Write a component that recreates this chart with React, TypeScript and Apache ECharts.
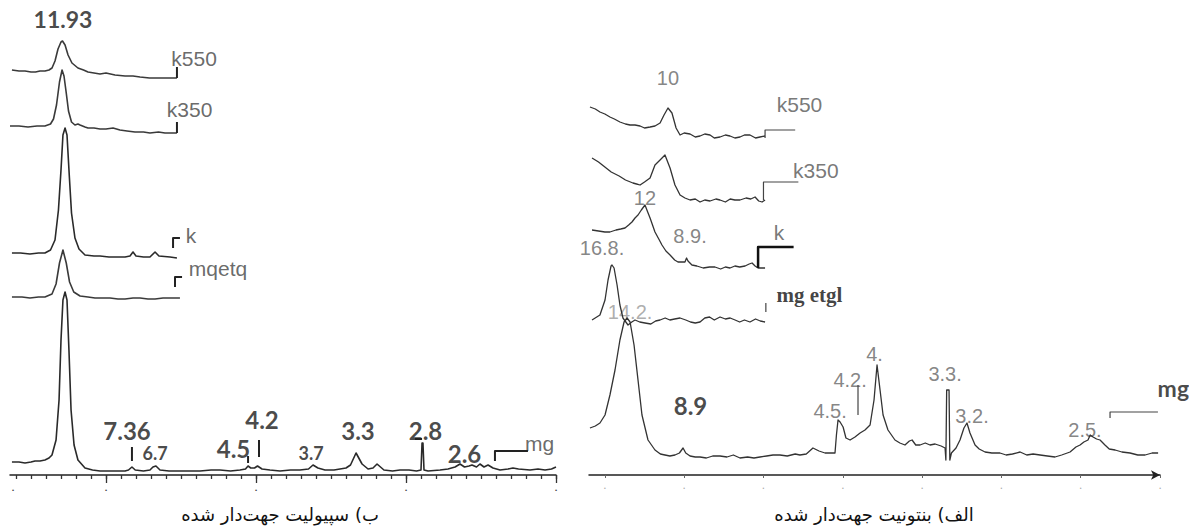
import { useEffect, useRef } from 'react';
import * as echarts from 'echarts';

type Pt = [number, number];
type Lbl = [string, number, number];

// ---- ب) sepiolite, x = 2θ (deg), y = stacked intensity (a.u.)
const sepK550: Pt[] = [
  [3.73, 405], [4.2, 404], [4.6, 404], [5.0, 403], [5.3, 403], [5.6, 404], [5.93, 404], [6.2, 405],
  [6.4, 407], [6.6, 414], [6.8, 426], [7.0, 433], [7.1, 434], [7.27, 430], [7.47, 420], [7.73, 412],
  [8.13, 407], [8.5, 405], [8.8, 403], [9.2, 402], [9.6, 401], [10.0, 402], [10.6, 400], [11.27, 399],
  [11.8, 399], [12.27, 398], [12.9, 397], [13.6, 397], [14.2, 397], [14.73, 397],
];
const sepK350: Pt[] = [
  [3.6, 349], [4.2, 349], [4.8, 348], [5.4, 349], [5.93, 349], [6.3, 351], [6.5, 356], [6.7, 370],
  [6.9, 393], [7.07, 405], [7.2, 399], [7.35, 382], [7.5, 364], [7.7, 353], [7.93, 350], [8.13, 351],
  [8.27, 350], [8.6, 348], [8.8, 347], [9.2, 347], [9.6, 346], [10.0, 346], [10.47, 347], [10.93, 345],
  [11.4, 344], [11.93, 343], [12.5, 343], [12.93, 342], [13.5, 343], [13.93, 342], [14.73, 342],
];
const sepK: Pt[] = [
  [3.73, 222], [4.3, 222], [4.93, 221], [5.5, 222], [5.93, 222], [6.3, 225], [6.6, 235], [6.83, 265],
  [7.0, 305], [7.13, 340], [7.27, 347], [7.4, 340], [7.55, 300], [7.7, 262], [7.93, 237], [8.2, 226],
  [8.6, 220], [9.2, 219], [9.6, 219], [10.2, 218], [10.6, 218], [11.27, 218], [11.6, 219], [11.8, 223],
  [12.0, 219], [12.5, 218], [12.93, 218], [13.27, 223], [13.53, 219], [14.27, 218], [14.73, 217],
];
const sepMgEtg: Pt[] = [
  [3.73, 178], [4.4, 178], [4.93, 177], [5.5, 178], [5.93, 178], [6.4, 181], [6.67, 191], [6.9, 212],
  [7.13, 225], [7.35, 212], [7.57, 193], [7.85, 183], [8.27, 179], [8.8, 178], [9.27, 177], [9.8, 177],
  [10.27, 177], [10.8, 176], [11.27, 176], [11.8, 177], [12.27, 177], [12.8, 176], [13.27, 176],
  [13.8, 177], [14.4, 177], [14.93, 177],
];
const sepMg: Pt[] = [
  [3.73, 13], [4.2, 13], [4.6, 12], [5.0, 13], [5.27, 14], [5.6, 14], [5.93, 15], [6.2, 17], [6.4, 20],
  [6.67, 35], [6.87, 75], [7.0, 135], [7.13, 175], [7.27, 183], [7.4, 175], [7.53, 125], [7.67, 65],
  [7.87, 30], [8.13, 15], [8.6, 7], [9.1, 5], [9.6, 4], [10.4, 4], [11.27, 4], [11.5, 5], [11.73, 8],
  [11.95, 5], [12.5, 4], [12.93, 5], [13.13, 8], [13.33, 9], [13.6, 5], [14.2, 4], [14.93, 4], [15.6, 4],
  [16.27, 4], [17.0, 5], [17.6, 5], [18.3, 4], [18.93, 5], [19.3, 6], [19.47, 9], [19.65, 7], [19.9, 7],
  [20.1, 9], [20.4, 6], [20.93, 5], [21.6, 4], [22.3, 5], [22.93, 5], [23.5, 6], [23.8, 10], [24.13, 7],
  [24.6, 5], [25.2, 5], [25.6, 6], [26.0, 7], [26.3, 10], [26.67, 22], [27.07, 11], [27.47, 6], [27.8, 7],
  [28.07, 11], [28.3, 8], [28.53, 5], [29.1, 4], [29.6, 5], [30.2, 5], [30.7, 4], [31.0, 5], [31.07, 32],
  [31.13, 32], [31.2, 5], [31.47, 4], [32.27, 5], [32.8, 6], [33.27, 8], [33.6, 11], [33.9, 8], [34.2, 9],
  [34.4, 10], [34.7, 8], [34.93, 11], [35.2, 8], [35.47, 10], [35.8, 7], [36.27, 5], [36.8, 6], [37.13, 7],
  [37.5, 6], [38.27, 5], [38.8, 6], [39.27, 5], [39.7, 6], [40.0, 8],
];

// ---- الف) bentonite
const benK550: Pt[] = [
  [4.06, 368], [4.4, 366], [4.69, 363], [5.0, 361], [5.32, 358], [5.6, 356], [5.95, 353], [6.3, 351],
  [6.59, 350], [6.9, 350], [7.22, 349], [7.5, 347], [7.85, 348], [8.16, 349], [8.48, 352], [8.73, 360],
  [8.98, 367], [9.23, 362], [9.49, 347], [9.74, 340], [10.0, 342], [10.37, 341], [10.7, 338], [11.0, 339],
  [11.3, 341], [11.63, 340], [11.9, 337], [12.26, 338], [12.6, 340], [12.89, 339], [13.2, 337],
  [13.52, 338], [13.8, 340], [14.15, 340], [14.5, 337], [14.78, 338], [15.1, 339],
];
const benK350: Pt[] = [
  [4.19, 317], [4.6, 313], [5.0, 308], [5.4, 303], [5.9, 299], [6.3, 295], [6.77, 292], [7.0, 291],
  [7.22, 290], [7.5, 293], [7.85, 297], [8.16, 310], [8.48, 315], [8.79, 320], [9.11, 307], [9.42, 290],
  [9.74, 280], [10.05, 277], [10.37, 275], [10.7, 276], [11.0, 273], [11.3, 275], [11.63, 274], [12.0, 276],
  [12.26, 275], [12.6, 273], [12.9, 276], [13.2, 275], [13.52, 275], [13.9, 277], [14.2, 276],
  [14.47, 278], [14.7, 274], [14.91, 273], [15.1, 275],
];
const benK: Pt[] = [
  [4.19, 245], [4.6, 244], [5.0, 243], [5.32, 243], [5.7, 245], [6.0, 246], [6.27, 247], [6.5, 250],
  [6.71, 253], [6.9, 257], [7.09, 260], [7.3, 265], [7.53, 270], [7.7, 263], [7.85, 257], [8.16, 243],
  [8.4, 236], [8.6, 230], [8.85, 224], [9.11, 220], [9.4, 215], [9.61, 213], [9.85, 213], [10.05, 213],
  [10.15, 217], [10.24, 214], [10.49, 210], [10.8, 209], [11.2, 207], [11.6, 208], [11.94, 208],
  [12.3, 206], [12.6, 208], [12.89, 207], [13.2, 209], [13.5, 208], [13.84, 209], [14.1, 211],
  [14.28, 212], [14.47, 209], [14.66, 207], [15.1, 207],
];
const benMgEtgl: Pt[] = [
  [4.19, 155], [4.69, 160], [5.01, 175], [5.2, 195], [5.39, 209], [5.45, 210], [5.58, 207], [5.77, 190],
  [5.95, 170], [6.14, 157], [6.46, 150], [6.7, 153], [6.9, 155], [7.2, 153], [7.53, 152], [7.9, 151],
  [8.2, 154], [8.48, 155], [8.8, 157], [9.1, 155], [9.4, 156], [9.74, 157], [10.1, 155], [10.4, 153],
  [10.7, 152], [11.0, 153], [11.3, 157], [11.6, 158], [11.9, 155], [12.26, 158], [12.6, 156], [12.9, 157],
  [13.21, 155], [13.5, 153], [13.8, 155], [14.15, 153], [14.5, 156], [14.8, 154], [15.1, 153],
];
const benMg: Pt[] = [
  [4.06, 47], [4.4, 49], [4.69, 52], [5.01, 60], [5.32, 80], [5.64, 105], [5.95, 135], [6.21, 153],
  [6.4, 157], [6.59, 153], [6.84, 130], [7.09, 95], [7.34, 60], [7.72, 35], [8.16, 25], [8.5, 21],
  [8.79, 20], [9.1, 19], [9.42, 20], [9.7, 22], [9.93, 27], [10.1, 22], [10.37, 19], [10.7, 18], [11.0, 18],
  [11.4, 17], [11.8, 19], [12.26, 19], [12.7, 18], [13.1, 20], [13.52, 17], [14.0, 18], [14.4, 17],
  [14.78, 18], [15.2, 19], [15.6, 20], [16.04, 20], [16.5, 19], [17.0, 21], [17.3, 20], [17.7, 21],
  [18.12, 27], [18.5, 24], [18.88, 22], [19.2, 22], [19.51, 22], [19.6, 40], [19.7, 55], [19.83, 53],
  [20.02, 48], [20.2, 37], [20.46, 35], [20.77, 38], [21.09, 42], [21.4, 45], [21.72, 50], [21.97, 75],
  [22.16, 110], [22.35, 85], [22.54, 60], [22.85, 45], [23.29, 35], [23.6, 32], [23.92, 30], [24.2, 34],
  [24.37, 35], [24.6, 30], [24.87, 30], [25.2, 32], [25.5, 30], [25.82, 31], [26.2, 29], [26.45, 27],
  [26.5, 15], [26.55, 85], [26.7, 85], [26.75, 15], [26.85, 22], [27.14, 27], [27.39, 35], [27.64, 47],
  [27.83, 52], [28.02, 42], [28.34, 30], [28.6, 26], [28.97, 23], [29.4, 22], [29.91, 22], [30.3, 20],
  [30.7, 21], [31.18, 23], [31.6, 20], [32.0, 21], [32.44, 20], [32.9, 19], [33.38, 18], [33.8, 20],
  [34.33, 23], [34.7, 28], [34.96, 30], [35.2, 33], [35.46, 35], [35.6, 40], [35.78, 38], [36.0, 36],
  [36.22, 35], [36.53, 30], [36.8, 26], [37.17, 25], [37.6, 23], [38.11, 22], [38.6, 20], [39.06, 20],
  [39.5, 22], [39.88, 22],
];

// axis ticks (2θ)
const sepMinorTicks = [4, 5, 6, 7, 8, 9, 10, 11, 12, 13, 14, 15, 16, 17, 18, 19, 20, 21, 22, 23, 24, 25, 26, 27, 28, 29, 30, 31, 32, 33, 34, 35, 36, 37, 38, 39, 40];
const sepMajorTicks = [10, 20, 30, 40];
const sepTickDots = [3.8, 10, 20, 30, 40];
const benTicks = [5, 10, 15, 20, 25, 30, 35, 40];

// annotations
const sepTopLabel: Lbl[] = [['11.93', 7.13, 456]];
const sepBigLabels: Lbl[] = [
  ['7.36', 11.4, 45], ['4.2', 20.4, 56], ['4.5', 18.5, 27],
  ['3.3', 26.8, 45], ['2.8', 31.3, 45], ['2.6', 33.9, 22],
];
const sepSmallLabels: Lbl[] = [['6.7', 13.27, 22], ['3.7', 23.67, 22]];
const sepNames: Lbl[] = [['k550', 15.87, 417], ['k350', 15.57, 366], ['k', 15.67, 240], ['mqetq', 17.47, 207], ['mg', 38.9, 32]];
const sepMarks: Pt[][] = [
  [[14.73, 397], [14.73, 408]],
  [[14.73, 342], [14.73, 353]],
  [[14.47, 227], [14.47, 237], [14.93, 237]],
  [[14.6, 188], [14.6, 198], [15.07, 198]],
  [[35.93, 14], [35.93, 24], [38.13, 24]],
  [[30.6, 36], [31.07, 36]],
  [[11.73, 14], [11.73, 28]],
  [[20.2, 18], [20.2, 35]],
  [[19.47, 12], [19.47, 19]],
];

const benNames: Lbl[] = [['k550', 17.27, 371], ['k350', 18.3, 305], ['k', 15.98, 243]];
const benPeakLabels: Lbl[] = [
  ['10', 8.98, 397], ['12', 7.53, 277], ['8.9.', 10.37, 239], ['16.8.', 4.82, 227],
  ['4.5.', 19.2, 64], ['4.2.', 20.46, 95], ['4.', 22.0, 121], ['3.3.', 26.45, 101],
  ['3.2.', 28.15, 59], ['2.5.', 35.27, 45],
];
const benFaintLabels: Lbl[] = [['14.2.', 6.59, 163]];
const benBold: Lbl[] = [['8.9', 10.4, 70]];
const benMgLabel: Lbl[] = [['mg', 39.85, 87]];
const benEtglLabel: Lbl[] = [['mg etgl', 17.9, 180]];
const benMarks: Pt[][] = [
  [[15.1, 337], [15.1, 345], [17.0, 345]],
  [[15.0, 275], [15.0, 293], [17.2, 293]],
  [[15.15, 163], [15.15, 172]],
  [[20.96, 60], [20.96, 90]],
  [[36.85, 57], [36.85, 63], [39.87, 63]],
];
const benThickMark: Pt[] = [[14.66, 207], [14.66, 228], [16.9, 228]];

const captionLeft = 'ب) سپیولیت جهت‌دار شده';
const captionRight = 'الف) بنتونیت جهت‌دار شده';

const line = (data: Pt[], xi: number, yi: number, color: string, width: number) => ({
  type: 'line',
  xAxisIndex: xi,
  yAxisIndex: yi,
  data,
  symbol: 'none',
  clip: false,
  silent: true,
  lineStyle: { color, width, join: 'round' },
});

const labels = (items: Lbl[], xi: number, yi: number, style: any) => ({
  type: 'scatter',
  xAxisIndex: xi,
  yAxisIndex: yi,
  symbolSize: 0,
  clip: false,
  silent: true,
  data: items.map(([name, x, y]) => ({ name, value: [x, y] })),
  label: { show: true, position: 'inside', formatter: '{b}', ...style },
});

export default function App() {
  const chartRef = useRef<HTMLDivElement>(null);

  useEffect(() => {
    document.body.style.margin = '0';
    if (!chartRef.current) return;
    const chart = echarts.init(chartRef.current, undefined, { renderer: 'svg' });

    const numBold = { fontFamily: 'Lato', fontWeight: 'bold', color: '#1a1a1a' };
    const arial = { fontFamily: 'Liberation Sans', color: '#444', fontSize: 21 };

    const series: any[] = [
      line(sepK550, 0, 0, '#3a3a3a', 1.6),
      line(sepK350, 0, 0, '#3a3a3a', 1.6),
      line(sepK, 0, 0, '#2a2a2a', 1.6),
      line(sepMgEtg, 0, 0, '#3a3a3a', 1.6),
      line(sepMg, 0, 0, '#2a2a2a', 1.6),
      ...sepMarks.map((m) => line(m, 0, 0, '#222', 2)),
      labels(sepTopLabel, 0, 0, { ...numBold, fontSize: 23 }),
      labels(sepBigLabels, 0, 0, { ...numBold, fontSize: 24 }),
      labels(sepSmallLabels, 0, 0, { ...numBold, fontSize: 18 }),
      labels(sepNames, 0, 0, { ...arial, fontSize: 21 }),

      line(benK550, 2, 1, '#333', 1.3),
      line(benK350, 2, 1, '#333', 1.3),
      line(benK, 2, 1, '#333', 1.3),
      line(benMgEtgl, 2, 1, '#333', 1.3),
      line(benMg, 2, 1, '#333', 1.3),
      ...benMarks.map((m) => line(m, 2, 1, '#444', 1.2)),
      line(benThickMark, 2, 1, '#111', 2.5),
      labels(benNames, 2, 1, { ...arial, color: '#555' }),
      labels(benPeakLabels, 2, 1, { ...arial, color: '#666', fontSize: 20 }),
      labels(benFaintLabels, 2, 1, { ...arial, color: '#999', fontSize: 20 }),
      labels(benBold, 2, 1, { ...numBold, fontSize: 24 }),
      labels(benMgLabel, 2, 1, { ...numBold, fontSize: 23, align: 'left' }),
      labels(benEtglLabel, 2, 1, { fontFamily: 'Liberation Serif', fontWeight: 'bold', fontSize: 21, color: '#111' }),
    ];

    const hiddenY = { type: 'value', min: 0, max: 475, show: false };
    const captionFont = '18px "DejaVu Sans", serif';

    chart.setOption({
      animation: false,
      grid: [
        { left: 10, width: 546, top: 0, bottom: 52 },
        { left: 589, width: 571, top: 0, bottom: 52 },
      ],
      xAxis: [
        {
          type: 'value', gridIndex: 0, min: 3.6, max: 40,
          splitLine: { show: false },
          axisLine: { lineStyle: { color: '#222', width: 1.5 } },
          axisTick: { customValues: sepMinorTicks, length: 4, lineStyle: { color: '#333', width: 1.3 } },
          axisLabel: { customValues: sepTickDots, formatter: () => '•', fontSize: 6, color: '#444', margin: 12 },
        },
        {
          type: 'value', gridIndex: 0, min: 3.6, max: 40, position: 'bottom',
          splitLine: { show: false },
          axisLine: { show: false },
          axisTick: { customValues: sepMajorTicks, length: 8, lineStyle: { color: '#333', width: 1.3 } },
          axisLabel: { show: false },
        },
        {
          type: 'value', gridIndex: 1, min: 4, max: 40,
          splitLine: { show: false },
          axisLine: { symbol: ['none', 'arrow'], symbolSize: [7, 9], lineStyle: { color: '#222', width: 1.5 } },
          axisTick: { customValues: benTicks, length: 3, lineStyle: { color: '#666' } },
          axisLabel: { customValues: benTicks, formatter: () => '•', fontSize: 5, color: '#aaa', margin: 10 },
        },
      ],
      yAxis: [
        { ...hiddenY, gridIndex: 0 },
        { ...hiddenY, gridIndex: 1 },
      ],
      graphic: [
        {
          type: 'text', x: 280, y: 505,
          style: { text: captionLeft, font: captionFont, fill: '#111', textAlign: 'center' },
        },
        {
          type: 'text', x: 874, y: 505,
          style: { text: captionRight, font: captionFont, fill: '#111', textAlign: 'center' },
        },
      ],
      series,
    });

    return () => chart.dispose();
  }, []);

  return <div ref={chartRef} style={{ width: 1189, height: 527 }} />;
}
